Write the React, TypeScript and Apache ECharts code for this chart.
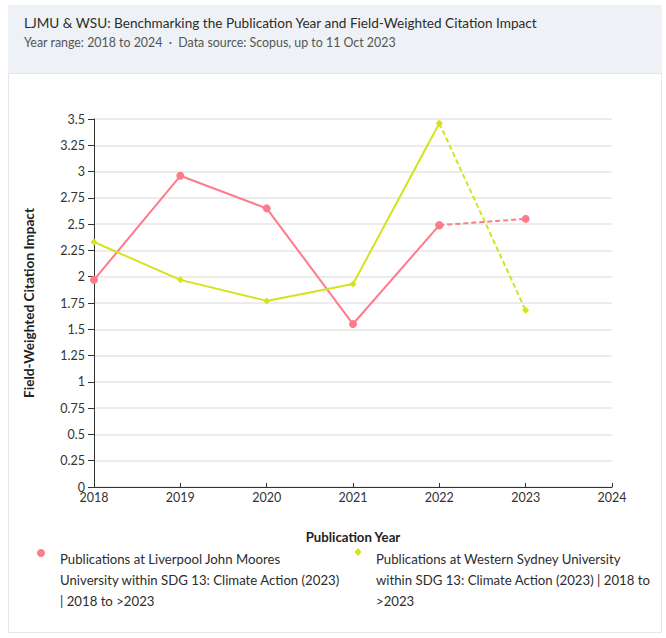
import React, { useEffect, useRef } from "react";
import * as echarts from "echarts";

const years = [2018, 2019, 2020, 2021, 2022, 2023];
const ljmuValues = [1.97, 2.96, 2.65, 1.55, 2.49, 2.55];
const wsuValues = [2.33, 1.97, 1.77, 1.93, 3.46, 1.68];
const ljmuName =
  "Publications at Liverpool John Moores University within SDG 13: Climate Action (2023) | 2018 to >2023";
const wsuName =
  "Publications at Western Sydney University within SDG 13: Climate Action (2023) | 2018 to >2023";
const ljmuLegendLines = [
  "Publications at Liverpool John Moores",
  "University within SDG 13: Climate Action (2023)",
  "| 2018 to >2023",
];
const wsuLegendLines = [
  "Publications at Western Sydney University",
  "within SDG 13: Climate Action (2023) | 2018 to",
  ">2023",
];
const titleText =
  "LJMU & WSU: Benchmarking the Publication Year and Field-Weighted Citation Impact";
const subtitleText =
  "Year range: 2018 to 2024  ·  Data source: Scopus, up to 11 Oct 2023";

const PINK = "#ff7b8b";
const LIME = "#d3e41c";
const FONT = "Lato, 'Open Sans', sans-serif";

export default function App() {
  const ref = useRef<HTMLDivElement>(null);
  useEffect(() => {
    if (!ref.current) return;
    const chart = echarts.init(ref.current, undefined, { renderer: "svg" });
    const pairs = (vals: number[]) => years.map((y, i) => [y, vals[i]]);
    const ljmu = pairs(ljmuValues);
    const wsu = pairs(wsuValues);
    const n = years.length;
    chart.setOption({
      animation: false,
      backgroundColor: "#ffffff",
      textStyle: { fontFamily: FONT },
      title: {
        text: titleText,
        subtext: subtitleText,
        left: 19,
        top: 11,
        itemGap: 6,
        textStyle: { fontFamily: FONT, fontSize: 13.6, fontWeight: "normal", color: "#2c2c2c" },
        subtextStyle: { fontFamily: FONT, fontSize: 12.4, color: "#555555" },
      },
      grid: { left: 94, right: 54, top: 119, bottom: 151 },
      xAxis: {
        type: "value",
        min: 2018,
        max: 2024,
        interval: 1,
        name: "Publication Year",
        nameLocation: "middle",
        nameGap: 43,
        nameTextStyle: { fontFamily: FONT, fontSize: 13.2, fontWeight: "bold", color: "#222" },
        axisLine: { show: true, lineStyle: { color: "#333", width: 1 } },
        axisTick: { show: true, inside: true, length: 4, lineStyle: { color: "#333" } },
        axisLabel: {
          formatter: (v: number) => String(v),
          margin: 4,
          fontFamily: FONT,
          fontSize: 12.5,
          color: "#333",
        },
        splitLine: { show: false },
      },
      yAxis: {
        type: "value",
        min: 0,
        max: 3.5,
        interval: 0.25,
        name: "Field-Weighted Citation Impact",
        nameLocation: "middle",
        nameRotate: 90,
        nameGap: 58,
        nameTextStyle: { fontFamily: FONT, fontSize: 13.6, fontWeight: "bold", color: "#222" },
        axisLine: { show: true, lineStyle: { color: "#333", width: 1 } },
        axisTick: { show: true, length: 6, lineStyle: { color: "#333" } },
        axisLabel: { margin: 9, fontFamily: FONT, fontSize: 12.5, color: "#333" },
        splitLine: { show: true, lineStyle: { color: "#e6e6e6", width: 1.5 } },
      },
      series: [
        {
          name: ljmuName,
          type: "line",
          data: ljmu.slice(0, n - 1),
          symbol: "circle",
          symbolSize: 8,
          itemStyle: { color: PINK },
          lineStyle: { color: PINK, width: 2 },
          z: 3,
        },
        {
          name: ljmuName,
          type: "line",
          data: ljmu.slice(n - 2),
          symbol: "circle",
          symbolSize: 8,
          itemStyle: { color: PINK },
          lineStyle: { color: PINK, width: 2, type: [5, 3] },
          z: 3,
        },
        {
          name: wsuName,
          type: "line",
          data: wsu.slice(0, n - 1),
          symbol: "diamond",
          symbolSize: 7,
          itemStyle: { color: LIME },
          lineStyle: { color: LIME, width: 2 },
          z: 4,
        },
        {
          name: wsuName,
          type: "line",
          data: wsu.slice(n - 2),
          symbol: "diamond",
          symbolSize: 7,
          itemStyle: { color: LIME },
          lineStyle: { color: LIME, width: 2, type: [5, 3] },
          z: 4,
        },
      ],
      graphic: [
        {
          type: "rect",
          z: -10,
          silent: true,
          shape: { x: 8, y: 5, width: 654, height: 68 },
          style: { fill: "#eef2f6" },
        },
        {
          type: "rect",
          z: -10,
          silent: true,
          shape: { x: 8.5, y: 73.5, width: 653, height: 559 },
          style: { fill: "none", stroke: "#e6e6e6", lineWidth: 1 },
        },
        {
          type: "circle",
          shape: { cx: 41, cy: 553, r: 4 },
          style: { fill: PINK },
        },
        {
          type: "polygon",
          shape: { points: [[358, 548], [361.5, 552], [358, 556], [354.5, 552]] },
          style: { fill: LIME },
        },
        {
          type: "text",
          x: 60,
          y: 548,
          style: {
            text: ljmuLegendLines.join("\n"),
            fontFamily: FONT,
            fontSize: 13.2,
            lineHeight: 21,
            fill: "#2c2c2c",
            verticalAlign: "top",
          },
        },
        {
          type: "text",
          x: 376,
          y: 548,
          style: {
            text: wsuLegendLines.join("\n"),
            fontFamily: FONT,
            fontSize: 13.2,
            lineHeight: 21,
            fill: "#2c2c2c",
            verticalAlign: "top",
          },
        },
      ],
    });
    return () => chart.dispose();
  }, []);
  return (
    <div
      ref={ref}
      style={{ position: "fixed", left: 0, top: 0, width: 666, height: 638 }}
    />
  );
}
